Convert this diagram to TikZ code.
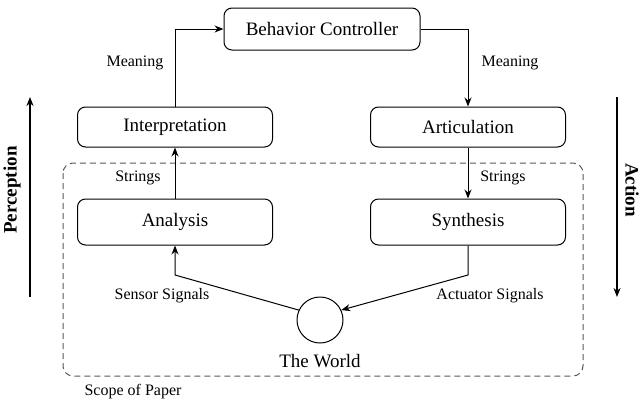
\documentclass[tikz,border=0pt]{standalone}
\usepackage{fontspec}
\setmainfont{Liberation Serif}
\usetikzlibrary{arrows.meta}
\begin{document}
\begin{tikzpicture}[x=1pt,y=-1pt,line width=1pt,
 box/.style={draw,rounded corners=8pt,minimum width=195pt,inner sep=0pt,font=\fontsize{19}{22}\selectfont},
 lab/.style={font=\fontsize{16}{18}\selectfont},
 arr/.style={-{Stealth[length=9pt,width=7pt]}}]
\useasboundingbox (0,0) rectangle (640,402);
\draw[dashed,dash pattern=on 6pt off 4pt,gray!70!black,rounded corners=10pt] (63,163) rectangle (583,376);
\node[box,minimum width=196pt,minimum height=42pt] (bc) at (322,29) {Behavior Controller};
\node[box,minimum height=40pt] (int) at (175,127) {Interpretation};
\node[box,minimum height=40pt] (art) at (468,127) {Articulation};
\node[box,minimum height=46pt] (ana) at (175,222) {Analysis};
\node[box,minimum height=46pt] (syn) at (468,222) {Synthesis};
\node[draw,circle,minimum size=46pt,inner sep=0pt] (w) at (320,320) {};
\node[font=\fontsize{19}{22}\selectfont] (wl) at (320,361) {The World};
\node[lab] (sc) at (133,392) {Scope of Paper};
\coordinate (c1) at (int.north |- bc.west);
\coordinate (c2) at (art.north |- bc.east);
\coordinate (c3) at (175,275);
\coordinate (c4) at (468,275);
\draw[arr] (int.north) -- (c1) -- (bc.west);
\draw[arr] (bc.east) -- (c2) -- (art.north);
\draw[arr] (ana.north) -- (int.south);
\draw[arr] (art.south) -- (syn.north);
\draw[arr] (w.155) -- (c3) -- (ana.south);
\draw[arr] (syn.south) -- (c4) -- (w.25);
\node[lab] (m1) at (135,63) {Meaning};
\node[lab] (m2) at (510,63) {Meaning};
\node[lab] (s1) at (138,178) {Strings};
\node[lab] (s2) at (503,178) {Strings};
\node[lab] (ss) at (162,296) {Sensor Signals};
\node[lab] (as) at (490,296) {Actuator Signals};
\coordinate (p1) at (30,297); \coordinate (p2) at (30,97);
\coordinate (q1) at (617,97); \coordinate (q2) at (617,297);
\draw[arr,line width=2.5pt] (p1) -- (p2);
\draw[arr,line width=2.5pt] (q1) -- (q2);
\node[rotate=90,font=\fontsize{19}{22}\selectfont\bfseries] (per) at (12,190) {Perception};
\node[rotate=-90,font=\fontsize{19}{22}\selectfont\bfseries] (act) at (632,190) {Action};
\end{tikzpicture}
\end{document}
